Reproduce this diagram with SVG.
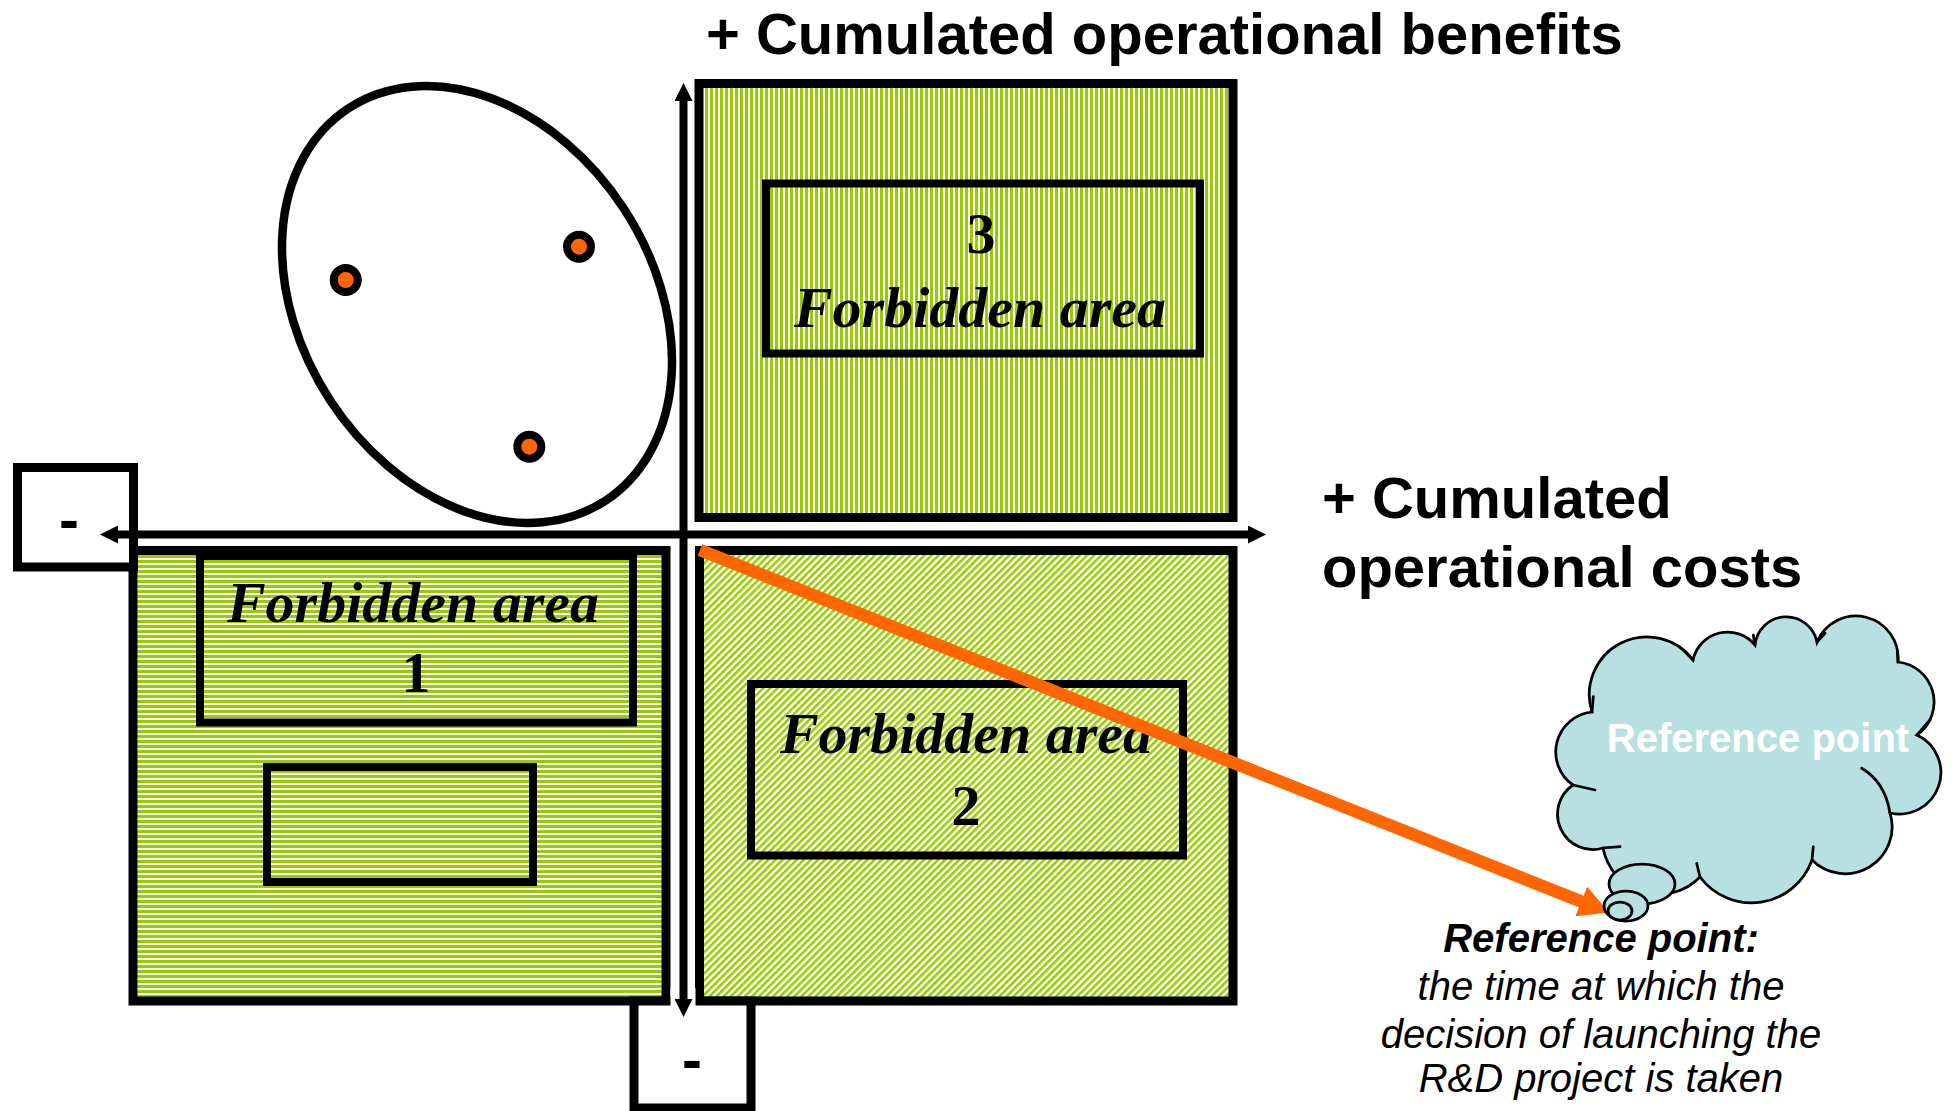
<svg xmlns="http://www.w3.org/2000/svg" width="1952" height="1111" viewBox="0 0 1952 1111">
<style>
.box{stroke:#000;stroke-width:9}
.inner{fill:none;stroke:#000;stroke-width:8}
.fa{font-family:"Liberation Serif","Times New Roman",serif;font-weight:bold;font-style:italic;font-size:58px;text-anchor:middle;fill:#000}
.num{font-family:"Liberation Serif","Times New Roman",serif;font-weight:bold;font-size:58px;text-anchor:middle;fill:#000}
.lbl{font-family:"Liberation Sans",Arial,sans-serif;font-weight:bold;font-size:58px;fill:#000}
.minus{font-family:"Liberation Sans",Arial,sans-serif;font-weight:bold;font-size:60px;fill:#000}
.note{font-family:"Liberation Sans",Arial,sans-serif;font-style:italic;font-size:40px;text-anchor:middle;fill:#000}
.dot{fill:#FF6600;stroke:#000;stroke-width:8}
.cl{fill:#B8DFE2;stroke:#000;stroke-width:2.75}
.cusp{fill:none;stroke:#000;stroke-width:2.75;stroke-linecap:round}
.axis{fill:none;stroke:#000;stroke-width:8}
</style>
<defs>
<pattern id="pv" width="5" height="5" patternUnits="userSpaceOnUse"><rect width="5" height="5" fill="#fff"/><rect width="3" height="5" fill="#99CC00"/></pattern>
<pattern id="ph" width="5" height="5" patternUnits="userSpaceOnUse"><rect width="5" height="5" fill="#fff"/><rect width="5" height="3" fill="#99CC00"/></pattern>
<pattern id="pd" width="5" height="5" patternUnits="userSpaceOnUse" patternTransform="rotate(45)"><rect width="5" height="5" fill="#fff"/><rect width="2.6" height="5" fill="#99CC00"/></pattern>
<marker id="ah" markerUnits="userSpaceOnUse" markerWidth="18" markerHeight="18" refX="2" refY="9" orient="auto-start-reverse"><path d="M0,0 L18,9 L0,18 z" fill="#000"/></marker>
<marker id="oh" markerUnits="userSpaceOnUse" markerWidth="30" markerHeight="32" refX="3" refY="16" orient="auto"><path d="M0,0 L30,16 L0,32 z" fill="#FF6600"/></marker>
</defs>
<rect width="1952" height="1111" fill="#fff"/>

<g id="label-benefits"><text class="lbl" x="706" y="54">+ Cumulated operational benefits</text></g>
<g id="label-costs"><text class="lbl" x="1322" y="518">+ Cumulated</text><text class="lbl" x="1322" y="587">operational costs</text></g>

<g id="ellipse-set">
<ellipse cx="477" cy="304.5" rx="234.5" ry="175.4" transform="rotate(56.8 477 304.5)" fill="#fff" stroke="#000" stroke-width="8.5"/>
<circle class="dot" cx="345.7" cy="280" r="12"/>
<circle class="dot" cx="579" cy="246.7" r="12"/>
<circle class="dot" cx="529.3" cy="446.7" r="12"/>
</g>

<g id="area-3">
<rect class="box" x="699" y="83.5" width="534" height="434" fill="url(#pv)"/>
<rect class="inner" x="766" y="183.5" width="434" height="170"/>
<text class="num" x="981" y="253">3</text>
<text class="fa" x="980" y="327">Forbidden area</text>
</g>

<g id="area-1">
<rect class="box" x="133" y="550.5" width="533" height="450.5" fill="url(#ph)"/>
<rect class="inner" x="200" y="556" width="433" height="166.5"/>
<rect class="inner" x="267" y="767" width="266" height="115"/>
<text class="fa" x="413" y="622">Forbidden area</text>
<text class="num" x="416" y="692">1</text>
</g>

<g id="area-2">
<rect class="box" x="699.5" y="550.5" width="533.5" height="450.5" fill="url(#pd)"/>
<rect class="inner" x="751" y="684" width="432" height="171.5"/>
<text class="fa" x="966" y="753">Forbidden area</text>
<text class="num" x="966" y="825">2</text>
</g>

<g id="minus-left">
<rect class="box" x="17.5" y="467.5" width="116" height="99.5" fill="#fff"/>
<text class="minus" x="59" y="540">-</text>
</g>
<g id="minus-bottom">
<rect class="box" x="634" y="1001" width="117" height="107" fill="#fff"/>
<text class="minus" x="682" y="1080">-</text>
</g>

<g id="connectors">
<line x1="683" y1="988" x2="683" y2="1012" stroke="#fff" stroke-width="25"/>
<path class="axis" d="M116,534.5 L1250,534.5" marker-start="url(#ah)" marker-end="url(#ah)"/>
<path class="axis" d="M683.5,99 L683.5,1001" marker-start="url(#ah)" marker-end="url(#ah)"/>
<line x1="700" y1="550" x2="1584" y2="902.6" stroke="#FF6600" stroke-width="12.5" marker-end="url(#oh)"/>
</g>

<g id="cloud">
<path class="cl" d="M1592,712 A57.6,57.6 0 0 1 1693,660 A35.4,35.4 0 0 1 1755,645 A31.4,31.4 0 0 1 1817,642 A42.2,42.2 0 0 1 1898,662 A40.3,40.3 0 0 1 1917,735 A41.5,41.5 0 0 1 1890,813 A46.9,46.9 0 0 1 1812,860 A64.2,64.2 0 0 1 1700,877 A57,57 0 0 1 1603,848 A35.3,35.3 0 0 1 1573,785 A40.2,40.2 0 0 1 1592,712 Z"/>
<path class="cusp" d="M1593.3,696.7 L1592,712 M1683.3,650 L1693,660 M1753.3,635 L1755,645 M1825,633.3 L1817,642 M1897.3,651.7 L1898,662 M1930,720 L1917,735 M1861.7,768.3 Q1885,782 1890,813 M1813.3,846.7 L1812,860 M1696.7,863.3 L1700,877 M1620,846.7 L1603,848 M1595,790 L1573,785"/>
<ellipse class="cl" cx="1642" cy="884" rx="33" ry="20"/>
<ellipse class="cl" cx="1626" cy="906" rx="22" ry="15"/>
<ellipse class="cl" cx="1620" cy="911" rx="12" ry="9"/>
<text x="1758" y="752" font-family="'Liberation Sans',Arial,sans-serif" font-weight="bold" font-size="40" fill="#fff" text-anchor="middle">Reference point</text>
</g>

<g id="note">
<text class="note" x="1601" y="952" font-weight="bold">Reference point:</text>
<text class="note" x="1601" y="1000">the time at which the</text>
<text class="note" x="1601" y="1048">decision of launching the</text>
<text class="note" x="1601" y="1092">R&amp;D project is taken</text>
</g>
</svg>
